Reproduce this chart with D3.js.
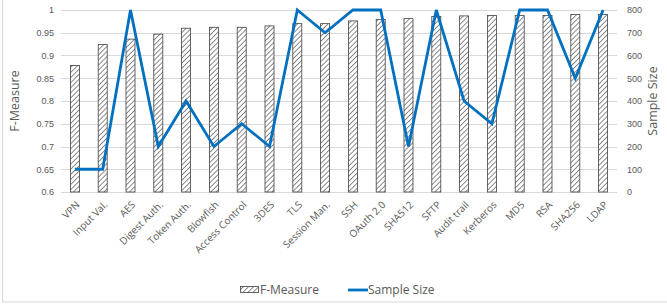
<!DOCTYPE html>
<html><head><meta charset="utf-8">
<script src="https://cdn.jsdelivr.net/npm/d3@7"></script>
<style>
body{margin:0;background:#fff;}
svg{display:block;font-family:"Open Sans",sans-serif;}
</style></head>
<body><svg id="c" width="667" height="306"></svg>
<script>
const categories = ["VPN","Input Val.","AES","Digest Auth.","Token Auth.","Blowfish","Access Control","3DES","TLS","Session Man.","SSH","OAuth 2.0","SHA512","SFTP","Audit trail","Kerberos","MD5","RSA","SHA256","LDAP"];
const fMeasure = [0.878,0.924,0.936,0.947,0.960,0.962,0.962,0.965,0.970,0.970,0.976,0.979,0.981,0.986,0.987,0.988,0.988,0.988,0.990,0.990];
const sampleSize = [100,100,800,200,400,200,300,200,800,700,800,800,200,800,400,300,800,800,500,800];
const leftTicks = [0.6,0.65,0.7,0.75,0.8,0.85,0.9,0.95,1];
const rightTicks = [0,100,200,300,400,500,600,700,800];

const svg = d3.select("#c");
const L = 61, R = 617, T = 10, B = 192;
const x = d3.scaleBand().domain(categories).range([L, R]);
const yL = d3.scaleLinear().domain([0.6, 1]).range([B, T]);
const yR = d3.scaleLinear().domain([0, 800]).range([B, T]);

const defs = svg.append("defs");
const pat = defs.append("pattern").attr("id","hatch").attr("patternUnits","userSpaceOnUse")
  .attr("width",3.6).attr("height",3.6).attr("patternTransform","rotate(45)");
pat.append("rect").attr("width",3.6).attr("height",3.6).attr("fill","#fff");
pat.append("line").attr("x1",0).attr("y1",0).attr("x2",0).attr("y2",3.6)
  .attr("stroke","#595959").attr("stroke-width",1.4);

// border
svg.append("rect").attr("x",2.5).attr("y",-2).attr("width",680).attr("height",304)
  .attr("fill","none").attr("stroke","#d9d9d9");

// gridlines
svg.append("g").selectAll("line").data(leftTicks).join("line")
  .attr("x1",L).attr("x2",R).attr("y1",d=>Math.round(yL(d))+0.5).attr("y2",d=>Math.round(yL(d))+0.5)
  .attr("stroke","#d9d9d9").attr("stroke-width",1);

// left axis
const la = svg.append("g").attr("transform",`translate(${L},0)`)
  .call(d3.axisLeft(yL).tickValues(leftTicks).tickSize(0).tickPadding(7).tickFormat(d=>String(d)));
la.select(".domain").remove();
la.selectAll("text").attr("fill","#595959").style("font-size","9px");

const ra = svg.append("g").attr("transform",`translate(${R},0)`)
  .call(d3.axisRight(yR).tickValues(rightTicks).tickSize(0).tickPadding(10));
ra.select(".domain").remove();
ra.selectAll("text").attr("fill","#595959").style("font-size","9px");

// bars
const bw = 10;
svg.append("g").selectAll("rect").data(categories).join("rect")
  .attr("x",d=>x(d)+x.bandwidth()/2-bw/2+0.5)
  .attr("y",(d,i)=>yL(fMeasure[i]))
  .attr("width",bw-1)
  .attr("height",(d,i)=>B-yL(fMeasure[i]))
  .attr("fill","url(#hatch)").attr("stroke","#404040").attr("stroke-width",0.8);

// line
const line = d3.line().x((d,i)=>x(categories[i])+x.bandwidth()/2).y(d=>yR(d));
svg.append("path").datum(sampleSize).attr("d",line)
  .attr("fill","none").attr("stroke","#0070C0").attr("stroke-width",2.8).attr("stroke-linejoin","miter");

// x labels
svg.append("g").selectAll("text").data(categories).join("text")
  .attr("transform",d=>`translate(${x(d)+x.bandwidth()/2+3},${B+11}) rotate(-45)`)
  .attr("text-anchor","end").attr("dy","0.35em")
  .attr("fill","#595959").style("font-size","10px").text(d=>d);

// axis titles
svg.append("text").attr("transform",`translate(19,${(T+B)/2}) rotate(-90)`)
  .attr("text-anchor","middle").attr("fill","#595959").style("font-size","12.5px").text("F-Measure");
svg.append("text").attr("transform",`translate(657,${(T+B)/2}) rotate(-90)`)
  .attr("text-anchor","middle").attr("fill","#595959").style("font-size","12.5px").text("Sample Size");

// legend
const lg = svg.append("g");
lg.append("rect").attr("x",240.5).attr("y",286.5).attr("width",18).attr("height",6)
  .attr("fill","url(#hatch)").attr("stroke","#404040").attr("stroke-width",0.8);
lg.append("text").attr("x",260).attr("y",290).attr("dy","0.35em").attr("fill","#595959")
  .style("font-size","12px").text("F-Measure");
lg.append("line").attr("x1",348).attr("x2",368).attr("y1",290).attr("y2",290)
  .attr("stroke","#0070C0").attr("stroke-width",2.8);
lg.append("text").attr("x",368).attr("y",290).attr("dy","0.35em").attr("fill","#595959")
  .style("font-size","12px").text("Sample Size");
</script></body></html>
